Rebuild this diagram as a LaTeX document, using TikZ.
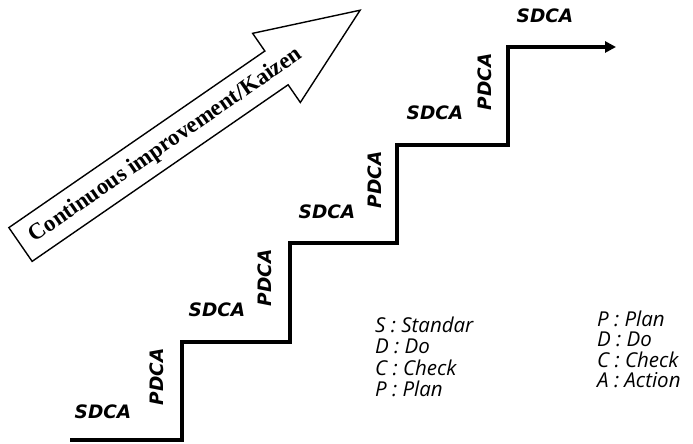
\documentclass[tikz,border=0pt]{standalone}
\usepackage{fontspec}
\usetikzlibrary{arrows.meta}
\newfontfamily\labfont{DejaVu Sans}
\newfontfamily\legfont{Open Sans}
\newfontfamily\arrfont{Liberation Serif}
\begin{document}
\begin{tikzpicture}[x=1pt,y=1pt,
  stair/.style={line width=3.5pt, line join=miter, -{Triangle[length=11pt,width=11pt]}},
  sdca/.style={font=\labfont\fontsize{18.5}{18.5}\selectfont\bfseries\itshape, inner sep=0pt},
  pdca/.style={sdca, rotate=90},
  leg/.style={font=\legfont\fontsize{20.5}{20.5}\selectfont\itshape, anchor=base west, inner sep=0pt},
  bigarrow/.style={draw, line width=1.4pt, line join=miter, fill=white},
  arrtext/.style={font=\arrfont\fontsize{23}{23}\selectfont\bfseries, inner sep=0pt}
]
\useasboundingbox (0,0) rectangle (693,444);
% staircase
\coordinate (s0) at (70,4);
\coordinate (s1) at (182,4);
\coordinate (s2) at (182,102);
\coordinate (s3) at (290,102);
\coordinate (s4) at (290,201);
\coordinate (s5) at (397,201);
\coordinate (s6) at (397,299);
\coordinate (s7) at (508,299);
\coordinate (s8) at (508,397);
\coordinate (s9) at (616,397);
\draw[stair] (s0) -- (s1) -- (s2) -- (s3) -- (s4) -- (s5) -- (s6) -- (s7) -- (s8) -- (s9);
% labels
\node[sdca] (sd1) at (103,32) {SDCA};
\node[pdca] (pd1) at (157,67) {PDCA};
\node[sdca] (sd2) at (217,134) {SDCA};
\node[pdca] (pd2) at (265,166) {PDCA};
\node[sdca] (sd3) at (327,232) {SDCA};
\node[pdca] (pd3) at (375,264) {PDCA};
\node[sdca] (sd4) at (435,331) {SDCA};
\node[pdca] (pd4) at (485,362) {PDCA};
\node[sdca] (sd5) at (545,428) {SDCA};
% big arrow
\begin{scope}[shift={(20.5,199.5)}, rotate=34.6]
  \draw[bigarrow] (0,20.5) -- (311,20.5) -- (311,42) -- (412.6,0) -- (311,-42) -- (311,-20.5) -- (0,-20.5) -- cycle;
  \node[arrtext, rotate=34.6] (kz) at (176,-1) {Continuous improvement/Kaizen};
\end{scope}
% legend
\node[leg] (l1) at (375,111) {S : Standar};
\node[leg] (l2) at (375,90) {D : Do};
\node[leg] (l3) at (375,68) {C : Check};
\node[leg] (l4) at (375,47) {P : Plan};
\node[leg] (r1) at (597,117) {P : Plan};
\node[leg] (r2) at (597,97) {D : Do};
\node[leg] (r3) at (597,76) {C : Check};
\node[leg] (r4) at (597,56) {A : Action};
\end{tikzpicture}
\end{document}
